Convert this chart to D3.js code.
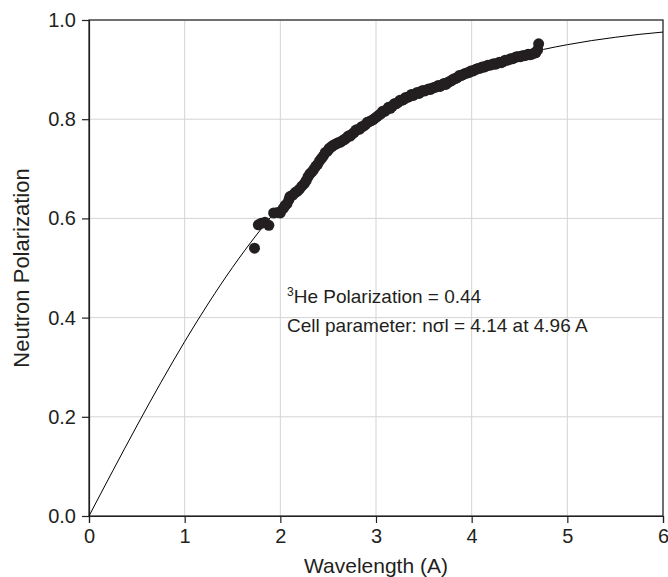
<!DOCTYPE html>
<html>
<head>
<meta charset="utf-8">
<script src="https://cdn.jsdelivr.net/npm/d3@7"></script>
<style>
  html, body { margin: 0; padding: 0; background: #fff; }
  svg { display: block; }
  text { font-family: "Liberation Sans", Arial, sans-serif; fill: #231f20; }
</style>
</head>
<body>
<div id="chart"></div>
<script>
// ---- Data ----
const xTicks = [0, 1, 2, 3, 4, 5, 6];
const yTicks = [0.0, 0.2, 0.4, 0.6, 0.8, 1.0];
const xTitle = "Wavelength (A)";
const yTitle = "Neutron Polarization";

// measured points (wavelength, polarization)
const measLambda = [1.73,1.77,1.80,1.84,1.88,1.93,1.97,2.00,2.03,2.05,2.07,2.09,2.10,2.13,2.155,2.18,2.20,2.225,2.25,2.27,2.29,2.31,2.33,2.35,2.37,2.39,2.41,2.43,2.45,2.47,2.49,2.51,2.53,2.55,2.57,2.59,2.61,2.63,2.65,2.67,2.69,2.71,2.73,2.75,2.77,2.79,2.81,2.83,2.85,2.87,2.89,2.91,2.93,2.95,2.97,2.99,3.01,3.03,3.05,3.07,3.09,3.11,3.13,3.15,3.17,3.19,3.21,3.23,3.25,3.27,3.29,3.31,3.33,3.35,3.37,3.39,3.41,3.43,3.45,3.47,3.49,3.51,3.53,3.55,3.57,3.59,3.61,3.63,3.65,3.67,3.69,3.71,3.73,3.75,3.77,3.79,3.81,3.83,3.85,3.87,3.89,3.91,3.93,3.95,3.97,3.99,4.01,4.03,4.05,4.07,4.09,4.11,4.13,4.15,4.17,4.19,4.21,4.23,4.25,4.27,4.29,4.31,4.33,4.35,4.37,4.39,4.41,4.43,4.45,4.47,4.49,4.51,4.53,4.55,4.57,4.59,4.61,4.63,4.65,4.67,4.69,4.70];
const measPol = [0.540,0.587,0.590,0.592,0.586,0.611,0.612,0.611,0.620,0.626,0.630,0.638,0.644,0.647,0.652,0.655,0.659,0.665,0.670,0.676,0.684,0.690,0.694,0.699,0.705,0.709,0.716,0.721,0.726,0.733,0.735,0.741,0.744,0.747,0.749,0.751,0.753,0.754,0.757,0.759,0.762,0.766,0.766,0.770,0.773,0.778,0.779,0.780,0.785,0.786,0.789,0.794,0.795,0.797,0.799,0.802,0.805,0.808,0.811,0.816,0.816,0.819,0.824,0.822,0.826,0.831,0.831,0.834,0.838,0.838,0.840,0.844,0.844,0.846,0.850,0.848,0.851,0.854,0.852,0.856,0.858,0.857,0.859,0.861,0.860,0.863,0.864,0.865,0.868,0.866,0.869,0.872,0.870,0.874,0.876,0.878,0.881,0.882,0.884,0.888,0.888,0.890,0.892,0.893,0.894,0.897,0.897,0.899,0.901,0.902,0.903,0.905,0.905,0.907,0.909,0.909,0.910,0.912,0.911,0.913,0.915,0.914,0.916,0.919,0.919,0.920,0.922,0.922,0.924,0.926,0.926,0.926,0.928,0.928,0.929,0.931,0.930,0.931,0.933,0.934,0.940,0.952];

// fitted curve
const fitLambda = [0,0.25,0.5,0.75,1,1.25,1.5,1.75,2,2.25,2.5,2.75,3,3.25,3.5,3.75,4,4.25,4.5,4.75,5,5.25,5.5,5.75,6];
const fitPol = [0,0.0916,0.1816,0.2687,0.3516,0.4294,0.5012,0.5665,0.6258,0.6783,0.7249,0.7657,0.8013,0.8316,0.8581,0.8805,0.8996,0.9155,0.9292,0.9407,0.9502,0.9584,0.9651,0.9710,0.9757];

const annotHe = "He Polarization = 0.44";
const annotCell = "Cell parameter: nσl = 4.14 at 4.96 A";

// ---- Layout ----
const W = 668, H = 577;
const margin = {left: 89, right: 5, top: 20, bottom: 61};
const iw = W - margin.left - margin.right;
const ih = H - margin.top - margin.bottom;
const ink = "#231f20";

const svg = d3.select("#chart").append("svg").attr("width", W).attr("height", H);
const g = svg.append("g").attr("transform", `translate(${margin.left},${margin.top})`);

const x = d3.scaleLinear().domain([0, 6]).range([0, iw]);
const y = d3.scaleLinear().domain([0, 1]).range([ih, 0]);

// grid
g.append("g").selectAll("line.vg").data(xTicks.filter(d => d > 0)).join("line")
  .attr("x1", d => x(d)).attr("x2", d => x(d)).attr("y1", 0).attr("y2", ih)
  .attr("stroke", "#d4d4d4").attr("stroke-width", 1);
g.append("g").selectAll("line.hg").data(yTicks.filter(d => d > 0)).join("line")
  .attr("x1", 0).attr("x2", iw).attr("y1", d => y(d)).attr("y2", d => y(d))
  .attr("stroke", "#d4d4d4").attr("stroke-width", 1);

// frame
g.append("rect").attr("x", 0).attr("y", 0).attr("width", iw).attr("height", ih)
  .attr("fill", "none").attr("stroke", ink).attr("stroke-width", 1.2);

// axes
const xAxis = g.append("g").attr("transform", `translate(0,${ih})`)
  .call(d3.axisBottom(x).tickValues(xTicks).tickFormat(d3.format("d")).tickSize(7).tickPadding(6));
const yAxis = g.append("g")
  .call(d3.axisLeft(y).tickValues(yTicks).tickFormat(d3.format(".1f")).tickSize(7).tickPadding(6));
[xAxis, yAxis].forEach(a => {
  a.select(".domain").attr("stroke", ink).attr("stroke-width", 1.2);
  a.selectAll(".tick line").attr("stroke", ink).attr("stroke-width", 1.2);
  a.selectAll(".tick text").attr("fill", ink).style("font-size", "20px")
    .style("font-family", "'Liberation Sans', Arial, sans-serif");
});

// fit curve
const line = d3.line().x(d => x(d[0])).y(d => y(d[1])).curve(d3.curveMonotoneX);
g.append("path").datum(fitLambda.map((l, i) => [l, fitPol[i]]))
  .attr("d", line).attr("fill", "none").attr("stroke", "#000").attr("stroke-width", 1);

// measured points
g.append("g").selectAll("circle").data(measLambda.map((l, i) => [l, measPol[i]])).join("circle")
  .attr("cx", d => x(d[0])).attr("cy", d => y(d[1])).attr("r", 5.5).attr("fill", ink);

// annotation
const ann = g.append("text").attr("x", x(2.07)).attr("y", y(0.43)).style("font-size", "19px");
ann.append("tspan").text("3").attr("baseline-shift", "super").style("font-size", "12px");
ann.append("tspan").text(annotHe);
g.append("text").attr("x", x(2.07)).attr("y", y(0.37)).style("font-size", "19px").text(annotCell);

// axis titles
svg.append("text").attr("x", margin.left + iw / 2).attr("y", H - 4)
  .attr("text-anchor", "middle").style("font-size", "21px").text(xTitle);
svg.append("text").attr("transform", `translate(29,${margin.top + ih / 2}) rotate(-90)`)
  .attr("text-anchor", "middle").style("font-size", "22px").text(yTitle);
</script>
</body>
</html>
